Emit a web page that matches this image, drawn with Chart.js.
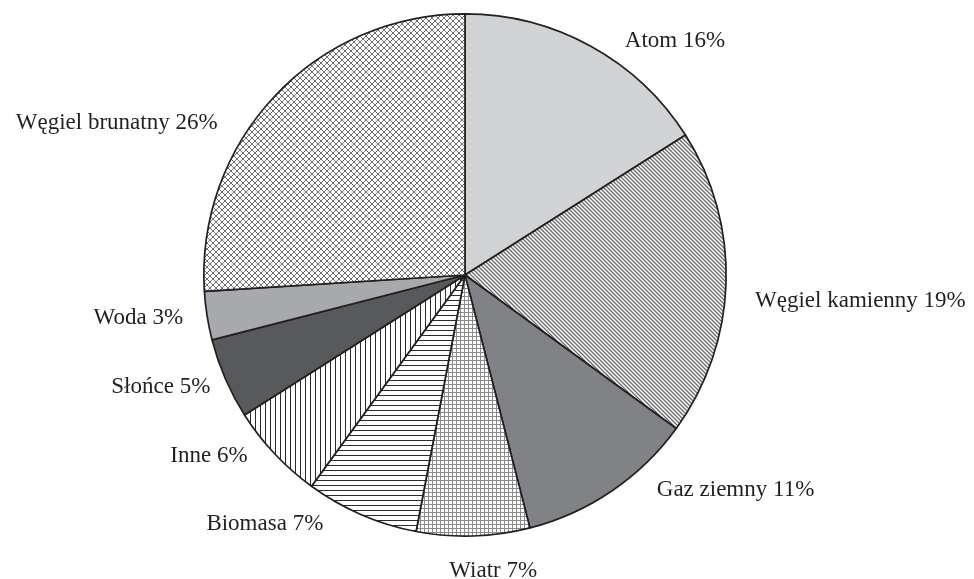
<!DOCTYPE html>
<html lang="pl">
<head>
<meta charset="utf-8">
<title>Struktura produkcji energii</title>
<script src="https://cdn.jsdelivr.net/npm/chart.js@4/dist/chart.umd.min.js"></script>
<style>
    html, body { margin: 0; padding: 0; background: #ffffff; }
    #wrap { width: 974px; height: 579px; }
</style>
</head>
<body>
<div id="wrap"><canvas id="pieChart" width="974" height="579"></canvas></div>
<script>
    /* ─── Data ─── */
    const categories = ['Atom', 'Węgiel kamienny', 'Gaz ziemny', 'Wiatr', 'Biomasa', 'Inne', 'Słońce', 'Woda', 'Węgiel brunatny'];
    const shares = [16, 19, 11, 7, 7, 6, 5, 3, 26];

    /* label placement: [align, dx, dy] relative to outer mid-point of each slice */
    const labelPlacement = [
        ['left', 34, 1],
        ['left', 29, 24],
        ['left', 45, 5],
        ['center', 20, 41],
        ['right', -38, 15],
        ['right', -27, 8],
        ['right', -15, 14],
        ['right', -24, 8],
        ['right', -57, 33]
    ];

    const INK = '#231f20';

    /* ─── Pattern tiles ─── */
    function makeTile(w, h, draw) {
        const c = document.createElement('canvas');
        c.width = w; c.height = h;
        const g = c.getContext('2d');
        g.fillStyle = '#ffffff';
        g.fillRect(0, 0, w, h);
        draw(g, w, h);
        return document.getElementById('pieChart').getContext('2d').createPattern(c, 'repeat');
    }

    function diagonalDown(color, size, width) {
        return makeTile(size, size, function (g, w, h) {
            g.strokeStyle = color;
            g.lineWidth = width;
            g.beginPath();
            g.moveTo(-1, -1); g.lineTo(w + 1, h + 1);
            g.moveTo(-1, h - 1); g.lineTo(1, h + 1);
            g.moveTo(w - 1, -1); g.lineTo(w + 1, 1);
            g.stroke();
        });
    }

    function crossHatch(color, size) {
        return makeTile(size, size, function (g, w, h) {
            g.strokeStyle = color;
            g.lineWidth = 1;
            g.beginPath();
            g.moveTo(-1, -1); g.lineTo(w + 1, h + 1);
            g.moveTo(-1, h + 1); g.lineTo(w + 1, -1);
            g.stroke();
        });
    }

    function grid(color, size) {
        return makeTile(size, size, function (g) {
            g.fillStyle = color;
            g.fillRect(0, 0, size, 1);
            g.fillRect(0, 0, 1, size);
        });
    }

    function hLines(color, gap) {
        return makeTile(4, gap, function (g) {
            g.fillStyle = color;
            g.fillRect(0, 0, 4, 1);
        });
    }

    function vLines(color, gap) {
        return makeTile(gap, 4, function (g) {
            g.fillStyle = color;
            g.fillRect(0, 0, 1, 4);
        });
    }

    const fills = [
        '#d1d2d4',
        diagonalDown('#6a6a6c', 4, 1.3),
        '#808285',
        grid('#8a8a8c', 4),
        hLines('#2b2b2b', 5),
        vLines('#2b2b2b', 5),
        '#58595b',
        '#a7a9ac',
        crossHatch('#6e6e70', 6)
    ];

    /* ─── Slice labels ─── */
    const sliceLabels = {
        id: 'sliceLabels',
        afterDatasetsDraw(chart) {
            const ctx = chart.ctx;
            const arcs = chart.getDatasetMeta(0).data;
            ctx.save();
            ctx.fillStyle = INK;
            ctx.font = '23px "Liberation Serif", "Times New Roman", serif';
            ctx.textBaseline = 'alphabetic';
            arcs.forEach(function (arc, i) {
                const p = arc.getProps(['x', 'y', 'startAngle', 'endAngle', 'outerRadius'], true);
                const mid = (p.startAngle + p.endAngle) / 2;
                const px = p.x + Math.cos(mid) * p.outerRadius;
                const py = p.y + Math.sin(mid) * p.outerRadius;
                const pl = labelPlacement[i];
                ctx.textAlign = pl[0];
                ctx.fillText(categories[i] + ' ' + shares[i] + '%', px + pl[1], py + pl[2]);
            });
            ctx.restore();
        }
    };

    new Chart(document.getElementById('pieChart'), {
        type: 'pie',
        data: {
            labels: categories,
            datasets: [{
                data: shares,
                backgroundColor: fills,
                borderColor: INK,
                borderWidth: 1.7,
                borderAlign: 'center'
            }]
        },
        options: {
            responsive: false,
            animation: false,
            events: [],
            layout: { padding: { left: 203, right: 247, top: 13, bottom: 42 } },
            plugins: {
                legend: { display: false },
                tooltip: { enabled: false }
            }
        },
        plugins: [sliceLabels]
    });
</script>
</body>
</html>
